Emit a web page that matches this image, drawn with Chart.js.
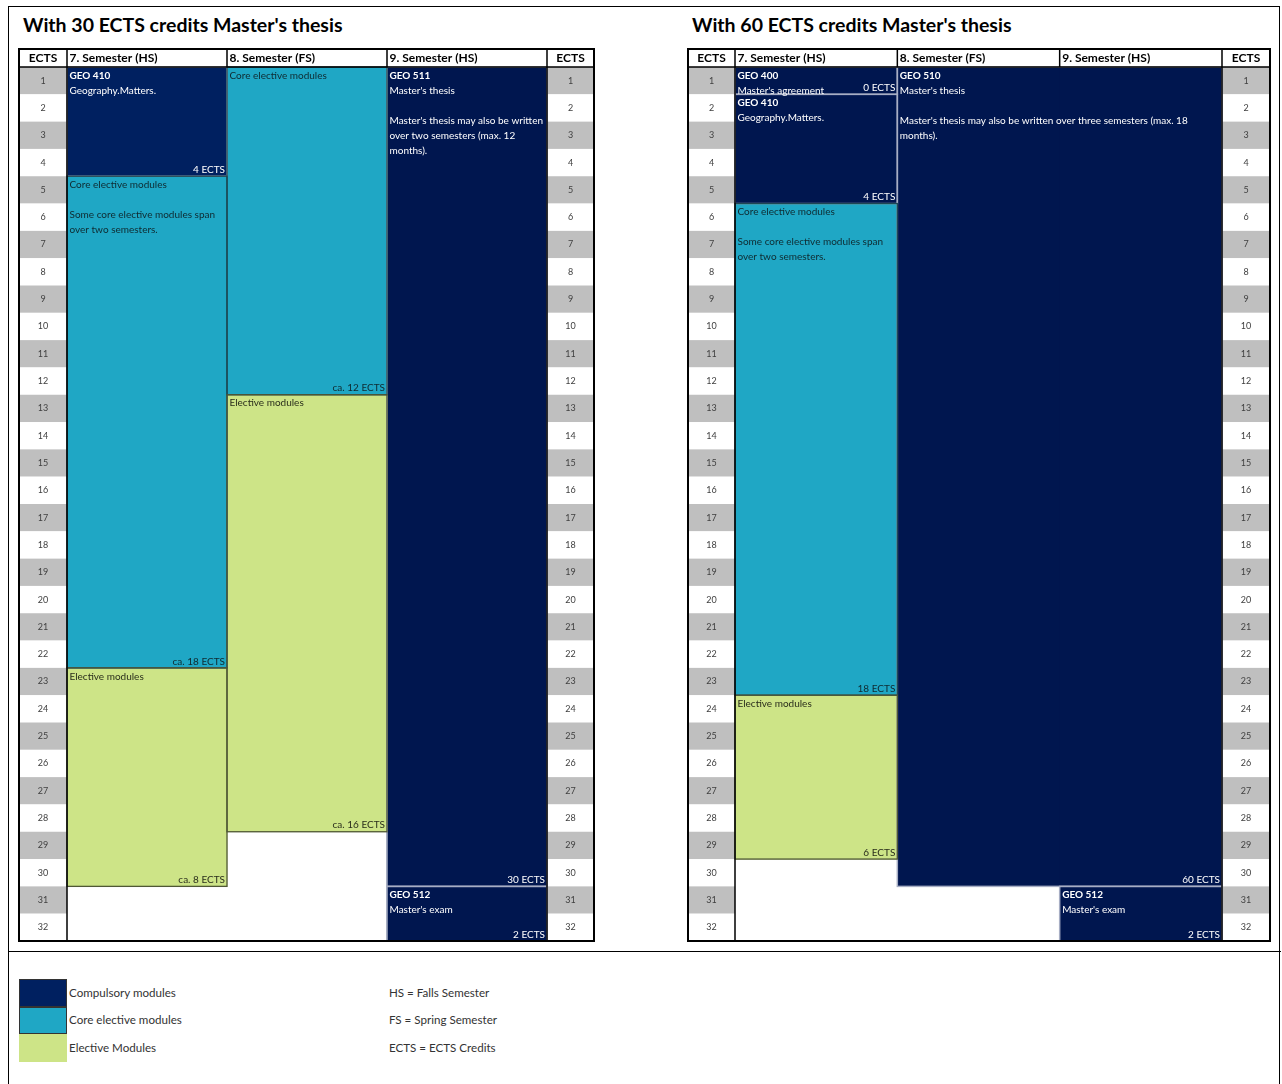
<!DOCTYPE html>
<html>
<head>
<meta charset="utf-8">
<script src="https://cdn.jsdelivr.net/npm/chart.js@4/dist/chart.umd.min.js"></script>
<style>
  html, body { margin: 0; padding: 0; background: #fff; }
  body { width: 1282px; height: 1084px; position: relative; overflow: hidden; font-family: Lato, "Open Sans", sans-serif; }
  .frame { position: absolute; left: 8px; top: 6px; width: 1272px; height: 1100px; border: 1px solid #000; box-sizing: border-box; }
  .divider { position: absolute; left: 8px; top: 951px; width: 1273px; height: 0; border-top: 1px solid #000; }
  .title { position: absolute; top: 14px; height: 22px; line-height: 22px; font-size: 19.5px; font-weight: 700; color: #000; white-space: nowrap; }
  canvas { position: absolute; }
  .sw { position: absolute; left: 19px; width: 48px; box-sizing: border-box; }
  .lt { position: absolute; font-size: 11.6px; color: #333; white-space: nowrap; height: 14px; line-height: 14px; }
</style>
</head>
<body>
<div class="frame"></div>
<div class="divider"></div>
<div class="title" style="left:23px">With 30 ECTS credits Master's thesis</div>
<div class="title" style="left:692px">With 60 ECTS credits Master's thesis</div>
<canvas id="c30" width="579" height="896" style="left:17px;top:47px;width:579px;height:896px"></canvas>
<canvas id="c60" width="586" height="896" style="left:686px;top:47px;width:586px;height:896px"></canvas>

<div class="sw" style="top:979px;height:28px;background:#002060;border:1px solid #333"></div>
<div class="sw" style="top:1007px;height:27px;background:#1fa7c5;border:1px solid #333"></div>
<div class="sw" style="top:1034px;height:28px;background:#cde487"></div>
<div class="lt" style="left:69px;top:986px">Compulsory modules</div>
<div class="lt" style="left:69px;top:1013px">Core elective modules</div>
<div class="lt" style="left:69px;top:1041px">Elective Modules</div>
<div class="lt" style="left:389px;top:986px">HS = Falls Semester</div>
<div class="lt" style="left:389px;top:1013px">FS = Spring Semester</div>
<div class="lt" style="left:389px;top:1041px">ECTS = ECTS Credits</div>

<script>
// ---------- DATA ----------
const semesterLabels = ['7. Semester (HS)', '8. Semester (FS)', '9. Semester (HS)'];
const ectsHeader = 'ECTS';
const ectsRows = [1,2,3,4,5,6,7,8,9,10,11,12,13,14,15,16,17,18,19,20,21,22,23,24,25,26,27,28,29,30,31,32];

// With 30 ECTS Master's thesis
const t30Column  = [0, 0, 0, 1, 1, 2, 2];
const t30Span    = [1, 1, 1, 1, 1, 1, 1];
const t30Start   = [0, 4, 22, 0, 12, 0, 30];
const t30End     = [4, 22, 30, 12, 28, 30, 32];
const t30Type    = ['compulsory', 'core', 'elective', 'core', 'elective', 'compulsory', 'compulsory'];
const t30Code    = ['GEO 410', '', '', '', '', 'GEO 511', 'GEO 512'];
const t30Text    = [
  ['Geography.Matters.'],
  ['Core elective modules', '', 'Some core elective modules span', 'over two semesters.'],
  ['Elective modules'],
  ['Core elective modules'],
  ['Elective modules'],
  ["Master's thesis", '', "Master's thesis may also be written", 'over two semesters (max. 12', 'months).'],
  ["Master's exam"]
];
const t30Credits = ['4 ECTS', 'ca. 18 ECTS', 'ca. 8 ECTS', 'ca. 12 ECTS', 'ca. 16 ECTS', '30 ECTS', '2 ECTS'];

// With 60 ECTS Master's thesis
const t60Column  = [0, 0, 0, 0, 1, 2];
const t60Span    = [1, 1, 1, 1, 2, 1];
const t60Start   = [0, 1, 5, 23, 0, 30];
const t60End     = [1, 5, 23, 29, 30, 32];
const t60Type    = ['compulsory', 'compulsory', 'core', 'elective', 'compulsory', 'compulsory'];
const t60Code    = ['GEO 400', 'GEO 410', '', '', 'GEO 510', 'GEO 512'];
const t60Text    = [
  ["Master's agreement"],
  ['Geography.Matters.'],
  ['Core elective modules', '', 'Some core elective modules span', 'over two semesters.'],
  ['Elective modules'],
  ["Master's thesis", '', "Master's thesis may also be written over three semesters (max. 18", 'months).'],
  ["Master's exam"]
];
const t60Credits = ['0 ECTS', '4 ECTS', '18 ECTS', '6 ECTS', '60 ECTS', '2 ECTS'];

// ---------- STYLE ----------
const FILL   = { compulsory: '#00164f', core: '#1fa7c5', elective: '#cde487' };
const EDGE   = { compulsory: '#a7aec4', core: '#1d4853', elective: '#4f5735' };
const INK    = { compulsory: '#ffffff', core: '#0f2a30', elective: '#2a2e1c' };
const FONT   = 'Lato, "Open Sans", sans-serif';

function blocksFrom(col, span, start, end, type, code, text, credits) {
  return col.map((c, i) => ({ col: c, span: span[i], start: start[i], end: end[i], type: type[i], code: code[i], text: text[i], credits: credits[i] }));
}

const tablePlugin = {
  id: 'tablePlugin',
  beforeDraw(chart) {
    const ctx = chart.ctx;
    const y = chart.scales.y, y2 = chart.scales.y2, x = chart.scales.x;
    ctx.save();
    ctx.fillStyle = '#ffffff';
    ctx.fillRect(y.left, x.top, y2.right - y.left, x.bottom - x.top);
    ectsRows.forEach(r => {
      const t = y.getPixelForValue(r - 1), b = y.getPixelForValue(r);
      ctx.fillStyle = (r % 2 === 1) ? '#bfbfbf' : '#ffffff';
      ctx.fillRect(y.left, t, y.right - y.left, b - t);
      ctx.fillRect(y2.left, t, y2.right - y2.left, b - t);
    });
    // row numbers from the y scale ticks
    ctx.fillStyle = '#404040';
    ctx.font = '400 9px ' + FONT;
    ctx.textAlign = 'center';
    ctx.textBaseline = 'middle';
    y.ticks.forEach(tk => {
      const py = y.getPixelForValue(tk.value);
      ctx.fillText(tk.label, (y.left + y.right) / 2, py);
      ctx.fillText(tk.label, (y2.left + y2.right) / 2, py);
    });
    ctx.restore();
  },
  afterDatasetsDraw(chart) {
    const ctx = chart.ctx;
    const x = chart.scales.x, y = chart.scales.y, y2 = chart.scales.y2;
    const ca = chart.chartArea;
    const blocks = chart.config.options.plugins.tablePlugin.blocks;
    const colW = (ca.right - ca.left) / semesterLabels.length;
    const geo = b => {
      const l = x.getPixelForValue(b.col) - colW / 2;
      const r = x.getPixelForValue(b.col + b.span - 1) + colW / 2;
      const t = y.getPixelForValue(b.start), bt = y.getPixelForValue(b.end);
      return { l, r, t, b: bt };
    };
    ctx.save();
    ['compulsory', 'core', 'elective'].forEach(kind => {
      blocks.filter(b => b.type === kind).forEach(b => {
        const g = geo(b);
        ctx.strokeStyle = EDGE[kind];
        ctx.lineWidth = kind === 'compulsory' ? 1.5 : 1.3;
        ctx.strokeRect(g.l, g.t, g.r - g.l, g.b - g.t);
      });
    });
    ctx.textBaseline = 'middle';
    blocks.forEach(b => {
      const g = geo(b);
      ctx.fillStyle = INK[b.type];
      let lines = [];
      if (b.code) lines.push({ s: b.code, bold: true });
      b.text.forEach(s => lines.push({ s, bold: false }));
      lines.forEach((ln, i) => {
        ctx.font = (ln.bold ? '700 ' : '400 ') + '10px ' + FONT;
        ctx.textAlign = 'left';
        ctx.fillText(ln.s, g.l + 2.5, g.t + 8.5 + i * 15);
      });
      ctx.font = '400 10px ' + FONT;
      ctx.textAlign = 'right';
      ctx.fillText(b.credits, g.r - 2, g.b - 6.5);
    });
    ctx.fillStyle = '#000';
    ctx.font = '700 12px ' + FONT;
    const hy = (x.top + ca.top) / 2 + 0.5;
    ctx.textAlign = 'center';
    ctx.fillText(ectsHeader, (y.left + y.right) / 2, hy);
    ctx.fillText(ectsHeader, (y2.left + y2.right) / 2, hy);
    ctx.textAlign = 'left';
    semesterLabels.forEach((s, i) => {
      ctx.fillText(s, x.getPixelForValue(i) - colW / 2 + 2.5, hy);
    });
    ctx.strokeStyle = '#000';
    ctx.lineWidth = 1.5;
    ctx.beginPath();
    ctx.moveTo(ca.left, x.top); ctx.lineTo(ca.left, ca.bottom);
    ctx.moveTo(ca.right, x.top); ctx.lineTo(ca.right, ca.bottom);
    ctx.moveTo(y.left, ca.top); ctx.lineTo(y2.right, ca.top);
    for (let i = 1; i < semesterLabels.length; i++) {
      const px = ca.left + i * colW;
      ctx.moveTo(px, x.top); ctx.lineTo(px, ca.top);
    }
    ctx.stroke();
    ctx.lineWidth = 2;
    ctx.strokeRect(y.left, x.top, y2.right - y.left, ca.bottom - x.top);
    ctx.restore();
  }
};

function makeChart(id, blocks, leftW, rightW, shade) {
  const datasets = blocks.map(b => ({
    label: b.code || b.type,
    data: semesterLabels.map((_, c) => (c >= b.col && c < b.col + b.span) ? [b.start, b.end] : null),
    backgroundColor: (shade && shade[b.code]) || FILL[b.type],
    borderWidth: 0,
    grouped: false,
    barPercentage: 1,
    categoryPercentage: 1
  }));
  const yAxis = (pos, w) => ({
    type: 'linear',
    position: pos,
    reverse: true,
    min: 0,
    max: 32,
    grid: { display: false, drawTicks: false },
    border: { display: false },
    afterBuildTicks(s) { s.ticks = ectsRows.map(r => ({ value: r - 0.5 })); },
    afterTickToLabelConversion(s) { s.ticks.forEach(t => { t.label = String(t.value + 0.5); }); },
    afterFit(s) { s.width = w; },
    ticks: { display: false }
  });
  return new Chart(document.getElementById(id), {
    type: 'bar',
    data: { labels: semesterLabels, datasets },
    options: {
      responsive: false,
      animation: false,
      devicePixelRatio: 1,
      layout: { padding: 2 },
      plugins: { legend: { display: false }, tooltip: { enabled: false }, tablePlugin: { blocks } },
      scales: {
        x: {
          type: 'category',
          position: 'top',
          grid: { display: false },
          border: { display: false },
          ticks: { display: false },
          afterFit(s) { s.height = 18; }
        },
        y: yAxis('left', leftW),
        y2: yAxis('right', rightW)
      }
    },
    plugins: [tablePlugin]
  });
}

makeChart('c30', blocksFrom(t30Column, t30Span, t30Start, t30End, t30Type, t30Code, t30Text, t30Credits), 48, 47, { 'GEO 410': '#002060' });
makeChart('c60', blocksFrom(t60Column, t60Span, t60Start, t60End, t60Type, t60Code, t60Text, t60Credits), 47, 48, null);
</script>
</body>
</html>
